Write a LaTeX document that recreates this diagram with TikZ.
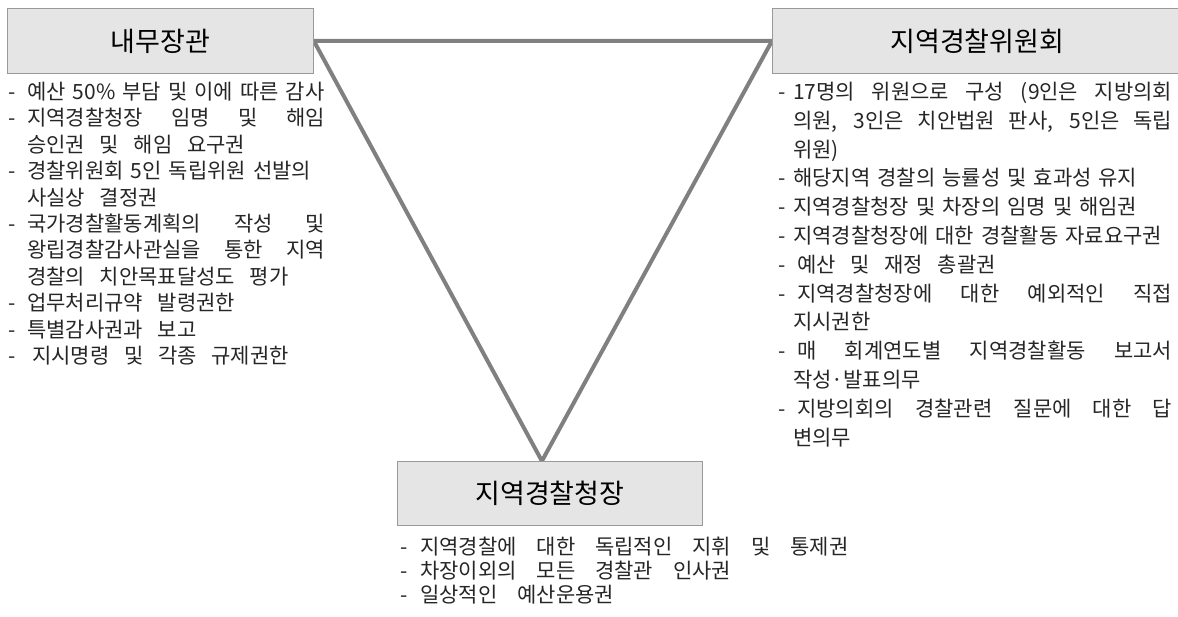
\documentclass[tikz,border=0pt]{standalone}
\usepackage{fontspec}
\setmainfont{Noto Sans CJK KR}
\usetikzlibrary{backgrounds}

\newlength\dshw
\newlength\colw
\newdimen\gspw
\newcommand\dsh{\makebox[\dshw][l]{-}}
\newcommand\ind{\leavevmode\hspace*{\dshw}}
\newcommand\jl[1]{\leavevmode\hbox to \colw{\spaceskip=\fontdimen2\font plus 1fil\relax #1}}
\newcommand\gl[1]{{\spaceskip=\gspw plus 0.6em minus 0.2em\relax #1}}

\tikzset{
  titlebox/.style={draw=gray!80, fill=gray!20, line width=0.8pt, inner sep=0pt,
    font=\fontsize{27}{32}\selectfont},
  itemlist/.style={inner sep=0pt, anchor=north west, align=left, text=black!85,
    font=\fontsize{21}{#1}\selectfont},
  itemlist/.default=26.4,
  tri/.style={draw=gray, line width=4pt}
}

\begin{document}
\begin{tikzpicture}[x=1pt,y=-1pt]
	\useasboundingbox (0,0) rectangle (1178,616);

	% the three offices
	\node[titlebox, anchor=north west, minimum width=306pt, minimum height=65pt] (minister) at (7,8) {내무장관};
	\node[titlebox, anchor=north west, minimum width=410pt, minimum height=65pt] (board) at (772,8) {지역경찰위원회};
	\node[titlebox, anchor=north west, minimum width=305pt, minimum height=64pt] (chief) at (397,461) {지역경찰청장};
	\coordinate (apex) at ([xshift=-8pt]chief.north);

	\begin{scope}[on background layer]
		\draw[tri] (minister.east) -- (board.west) -- (apex) -- cycle;
	\end{scope}

	% powers of each office
	\node[itemlist, text width=340pt] (mlist) at (8,82) {\parindent=0pt\setlength\colw{317pt}\setlength\dshw{19pt}\gspw=0.7em%
		\dsh 예산 50\% 부담 및 이에 따른 감사\\
		\jl{\dsh 지역경찰청장 임명 및 해임}\\
		\ind\gl{승인권 및 해임 요구권}\\
		\dsh 경찰위원회 5인 독립위원 선발의\\
		\ind\gl{사실상 결정권}\\
		\jl{\dsh 국가경찰활동계획의 작성 및}\\
		\jl{\ind 왕립경찰감사관실을 통한 지역}\\
		\ind\gl{경찰의 치안목표달성도 평가}\\
		\dsh\gl{업무처리규약 발령권한}\\
		\dsh\gl{특별감사권과 보고}\\
		\dsh\hspace{5pt}\gl{지시명령 및 각종 규제권한}};

	\node[itemlist=28.8, text width=410pt] (blist) at (778,82) {\parindent=0pt\setlength\colw{394pt}\setlength\dshw{15pt}\gspw=0.7em%
		\jl{\dsh 17명의 위원으로 구성 (9인은 지방의회}\\
		\jl{\ind 의원, 3인은 치안법원 판사, 5인은 독립}\\
		\ind 위원)\\
		\dsh 해당지역 경찰의 능률성 및 효과성 유지\\
		\dsh 지역경찰청장 및 차장의 임명 및 해임권\\
		\dsh 지역경찰청장에 대한 경찰활동 자료요구권\\
		\dsh\hspace{4pt}\gl{예산 및 재정 총괄권}\\
		\jl{\dsh\hspace{4pt}\gl{지역경찰청장에 대한 예외적인 직접}}\\
		\ind\gl{지시권한}\\
		\jl{\dsh\hspace{4pt}\gl{매 회계연도별 지역경찰활동 보고서}}\\
		\ind 작성·발표의무\\
		\jl{\dsh\hspace{4pt}\gl{지방의회의 경찰관련 질문에 대한 답}}\\
		\ind 변의무};

	\node[itemlist=24, text width=500pt] (clist) at (400,537) {\parindent=0pt\setlength\dshw{20pt}\gspw=0.95em%
		\dsh\gl{지역경찰에 대한 독립적인 지휘 및 통제권}\\
		\dsh\gl{차장이외의 모든 경찰관 인사권}\\
		\dsh\gl{일상적인 예산운용권}};
\end{tikzpicture}
\end{document}
